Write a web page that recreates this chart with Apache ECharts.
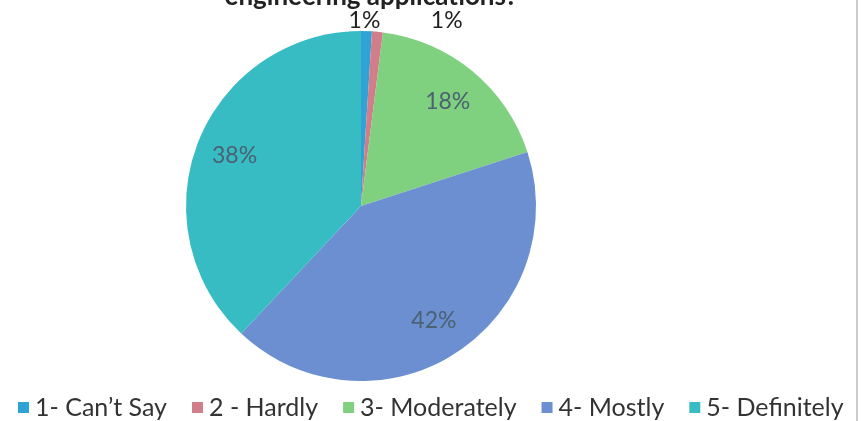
<!DOCTYPE html>
<html>
<head>
<meta charset="utf-8">
<script src="https://cdn.jsdelivr.net/npm/echarts@6/dist/echarts.min.js"></script>
<style>
html,body{margin:0;padding:0;background:#fff;}
#c{width:862px;height:421px;}
</style>
</head>
<body>
<div id="c"></div>
<script>
var titleText = "engineering applications?";
var categories = ["1- Can\u2019t Say", "2 - Hardly", "3- Moderately", "4- Mostly", "5- Definitely"];
var values = [1, 1, 18, 42, 38];
var colors = ["#2fa3d6", "#d27d8a", "#7fd07f", "#6b8fd0", "#38bcc3"];

var FONT = "Lato, 'Open Sans', sans-serif";
var chart = echarts.init(document.getElementById('c'), null, {renderer: 'canvas'});

var mainData = categories.map(function (n, i) {
  return {
    name: n, value: values[i],
    itemStyle: {color: colors[i]},
    label: {show: values[i] < 5}
  };
});
var overlayData = categories.map(function (n, i) {
  return {
    name: n, value: values[i],
    label: {show: values[i] >= 5}
  };
});

chart.setOption({
  animation: false,
  title: {
    text: titleText, left: 366, textAlign: 'center', top: -21,
    textStyle: {fontFamily: FONT, fontSize: 26, fontWeight: 'bold', color: '#222'}
  },
  legend: {
    bottom: -4, left: 13, itemWidth: 11, itemHeight: 11, itemGap: 25,
    icon: 'rect',
    textStyle: {fontFamily: FONT, fontSize: 25, color: '#333', padding: [0, 0, 0, 1]},
    data: categories
  },
  graphic: [{
    type: 'line', shape: {x1: 857, y1: 0, x2: 857, y2: 421},
    style: {stroke: '#999', lineWidth: 1}
  }],
  series: [{
    type: 'pie', center: [361, 206], radius: 175, startAngle: 90, clockwise: true,
    avoidLabelOverlap: false,
    data: mainData,
    itemStyle: {borderWidth: 0},
    label: {
      position: 'outside', formatter: '{d}%', fontFamily: FONT, fontSize: 23, color: '#222'
    },
    labelLine: {show: false, length: 4, length2: 0},
    labelLayout: function (p) {
      if (p.dataIndex === 0) return {dx: -23, dy: -7};
      if (p.dataIndex === 1) return {dx: 48, dy: -7};
      return {};
    },
    emphasis: {disabled: true}
  }, {
    type: 'pie', center: [361, 206], radius: [0, 266], startAngle: 90, clockwise: true,
    silent: true, avoidLabelOverlap: false,
    data: overlayData,
    itemStyle: {color: 'rgba(0,0,0,0)', borderWidth: 0},
    label: {
      position: 'inside', formatter: '{d}%', fontFamily: FONT, fontSize: 23, color: '#4a6272'
    },
    labelLine: {show: false},
    emphasis: {disabled: true}
  }]
});
</script>
</body>
</html>
